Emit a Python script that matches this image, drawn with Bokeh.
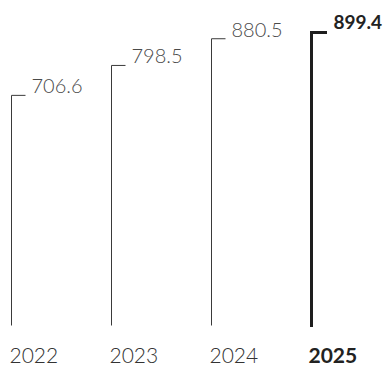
from bokeh.plotting import figure
from bokeh.models import ColumnDataSource, Range1d, CDSView, IndexFilter
from bokeh.transform import dodge
from bokeh.core.properties import value
from bokeh.embed import file_html
from bokeh.resources import INLINE

years = ["2022", "2023", "2024", "2025"]
values = [706.6, 798.5, 880.5, 899.4]
labels = ["706.6", "798.5", "880.5", "899.4"]
highlight_index = 3

xs = list(range(len(years)))
src = ColumnDataSource(dict(x=xs, v=values, label=labels, year=years, base=[0] * len(years)))
normal = CDSView(filter=IndexFilter([i for i in xs if i != highlight_index]))
hl = CDSView(filter=IndexFilter([highlight_index]))

p = figure(width=388, height=368, output_backend="svg", toolbar_location=None,
           x_range=Range1d(-0.11, 3.77), y_range=Range1d(-132, 997.9),
           x_axis_location=None, y_axis_location=None,
           min_border=0, min_border_left=0, min_border_right=0,
           min_border_top=0, min_border_bottom=0)
p.grid.visible = False
p.outline_line_color = None
p.background_fill_color = "white"
p.border_fill_color = "white"

FONT = value("Lato Light")
BOLD = value("Lato")

# thin lines
p.segment(x0="x", y0="base", x1="x", y1="v", source=src, view=normal,
          line_color="#3a3a3a", line_width=1)
p.segment(x0="x", y0="v", x1=dodge("x", 0.14), y1="v", source=src, view=normal,
          line_color="#3a3a3a", line_width=1)
# highlighted
p.segment(x0="x", y0="base", x1="x", y1="v", source=src, view=hl,
          line_color="#1e1e1e", line_width=3, line_cap="square")
p.segment(x0="x", y0="v", x1=dodge("x", 0.14), y1="v", source=src, view=hl,
          line_color="#1e1e1e", line_width=3, line_cap="square")

# value labels
p.text(x="x", y="v", text="label", source=src, view=normal,
       x_offset=20, y_offset=-9, text_baseline="alphabetic", text_align="left",
       text_font=FONT, text_font_size="20px", text_color="#4a4a4a")
p.text(x="x", y="v", text="label", source=src, view=hl,
       x_offset=22, y_offset=-11, text_baseline="alphabetic", text_align="left",
       text_font=BOLD, text_font_size="19px", text_font_style="bold",
       text_color="#222222")

# year labels
p.text(x="x", y="base", text="year", source=src, view=normal,
       x_offset=-2, y_offset=30, text_baseline="alphabetic", text_align="left",
       text_font=FONT, text_font_size="21px", text_color="#333333")
p.text(x="x", y="base", text="year", source=src, view=hl,
       x_offset=-3, y_offset=30, text_baseline="alphabetic", text_align="left",
       text_font=BOLD, text_font_size="21px", text_font_style="bold",
       text_color="#222222")

open("out.html", "w").write(file_html(p, INLINE))
